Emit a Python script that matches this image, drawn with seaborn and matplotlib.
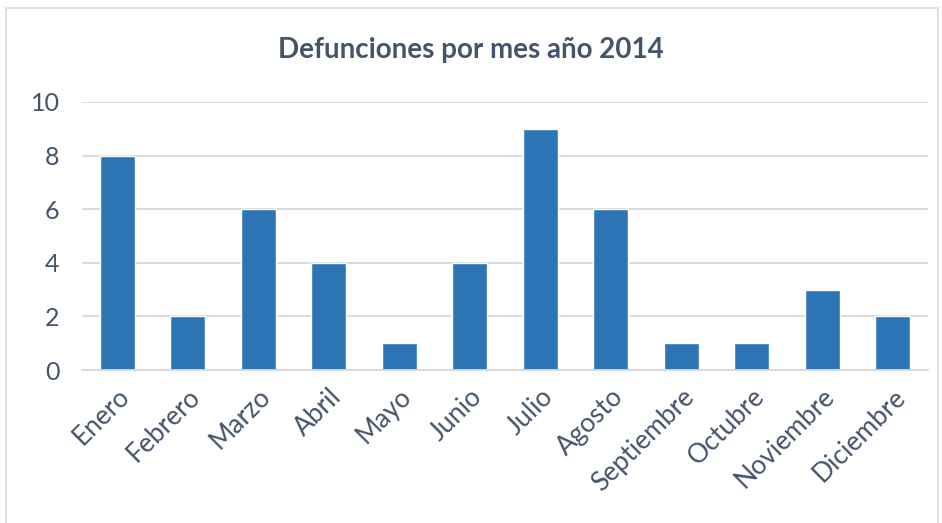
import pandas as pd
import matplotlib.pyplot as plt
import seaborn as sns
from matplotlib.patches import Rectangle

# Data
meses = ['Enero', 'Febrero', 'Marzo', 'Abril', 'Mayo', 'Junio', 'Julio',
         'Agosto', 'Septiembre', 'Octubre', 'Noviembre', 'Diciembre']
defunciones = [8, 2, 6, 4, 1, 4, 9, 6, 1, 1, 3, 2]
y_ticks = [0, 2, 4, 6, 8, 10]

df = pd.DataFrame({'mes': meses, 'defunciones': defunciones})

sns.set_style('white')
plt.rcParams['font.family'] = ['Lato', 'DejaVu Sans']

text_color = '#44546A'
grid_color = '#D9D9D9'

fig = plt.figure(figsize=(9.42, 5.23), dpi=100)
ax = fig.add_axes([0.087, 0.2925, 0.898, 0.5125])

sns.barplot(data=df, x='mes', y='defunciones', color='#2E75B6',
            width=0.5, saturation=1, ax=ax)

ax.set_ylim(0, 10)
ax.set_yticks(y_ticks)
ax.set_xlim(-0.5, len(meses) - 0.5)
ax.yaxis.grid(True, color=grid_color, linewidth=1.3)
ax.set_axisbelow(True)
for side in ['top', 'right', 'left']:
    ax.spines[side].set_visible(False)
ax.spines['bottom'].set_color(grid_color)
ax.spines['bottom'].set_linewidth(1.3)

ax.set_xlabel('')
ax.set_ylabel('')
ax.tick_params(axis='both', length=0, colors=text_color)
ax.tick_params(axis='y', labelsize=18, pad=16)
ax.tick_params(axis='x', labelsize=19, pad=10)
plt.setp(ax.get_xticklabels(), rotation=45, ha='right', rotation_mode='anchor')
for lbl in ax.get_xticklabels():
    lbl.set_x(lbl.get_position()[0])

fig.text(0.5, 0.905, 'Defunciones por mes año 2014', ha='center', va='center',
         fontsize=20, fontweight='bold', color=text_color)

# light frame around the chart area
fig.patches.append(Rectangle((0.006, -0.01), 0.99, 0.995, transform=fig.transFigure,
                             fill=False, edgecolor='#D9D9D9', linewidth=1.2))

plt.savefig('out.png', dpi=100)
